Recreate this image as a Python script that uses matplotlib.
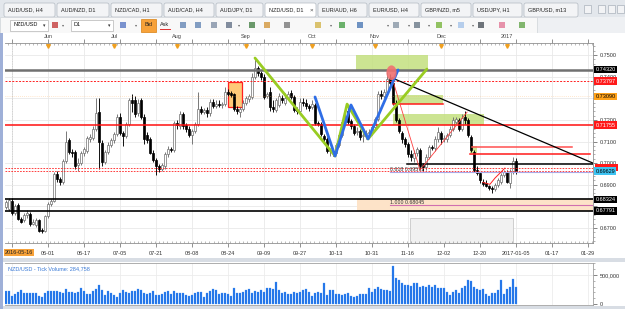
import numpy as np
import matplotlib
matplotlib.use("Agg")
import matplotlib.pyplot as plt
from matplotlib.patches import Rectangle, Ellipse, FancyBboxPatch
from matplotlib.ticker import MultipleLocator, FixedLocator

plt.rcParams['font.family'] = ['Liberation Sans', 'DejaVu Sans']

W, H = 625, 309

# NZD/USD daily bars, bar index 0 = 2016-05-16, last bar = 2017-01-05
first_bar = -2
opens = [0.6798, 0.6790, 0.6825, 0.6770, 0.6805, 0.6742, 0.6735, 0.6760, 0.6765, 0.6720,
         0.6715, 0.6735, 0.6690, 0.6688, 0.6755, 0.6810, 0.6825, 0.6950, 0.6925, 0.6915,
         0.7010, 0.7105, 0.7050, 0.7050, 0.6990, 0.7000, 0.7045, 0.7055, 0.7110, 0.7115,
         0.7160, 0.7235, 0.7095, 0.7005, 0.7050, 0.7085, 0.7105, 0.7135, 0.7215, 0.7140,
         0.7125, 0.7180, 0.7290, 0.7290, 0.7230, 0.7290, 0.7215, 0.7130, 0.7110, 0.7045,
         0.7015, 0.6985, 0.6975, 0.6985, 0.7040, 0.7065, 0.7060, 0.7185, 0.7170, 0.7225,
         0.7175, 0.7160, 0.7130, 0.7150, 0.7180, 0.7250, 0.7235, 0.7245, 0.7230, 0.7285,
         0.7265, 0.7275, 0.7268, 0.7275, 0.7330, 0.7325, 0.7320, 0.7250, 0.7235, 0.7250,
         0.7280, 0.7295, 0.7305, 0.7400, 0.7440, 0.7415, 0.7400, 0.7310, 0.7330, 0.7260,
         0.7245, 0.7270, 0.7300, 0.7280, 0.7300, 0.7325, 0.7305, 0.7245, 0.7240, 0.7285,
         0.7280, 0.7262, 0.7260, 0.7270, 0.7185, 0.7180, 0.7125, 0.7110, 0.7055, 0.7055,
         0.7045, 0.7085, 0.7130, 0.7190, 0.7240, 0.7195, 0.7170, 0.7145, 0.7150, 0.7125,
         0.7135, 0.7140, 0.7140, 0.7165, 0.7205, 0.7320, 0.7310, 0.7330, 0.7395, 0.7370,
         0.7280, 0.7200, 0.7140, 0.7110, 0.7090, 0.7040, 0.7025, 0.7045, 0.7060, 0.6990,
         0.6980, 0.7030, 0.7075, 0.7070, 0.7110, 0.7140, 0.7110, 0.7110, 0.7130, 0.7160,
         0.7190, 0.7200, 0.7160, 0.7215, 0.7200, 0.7120, 0.7050, 0.6970, 0.6955, 0.6915,
         0.6910, 0.6895, 0.6885, 0.6880, 0.6900, 0.6915, 0.6945, 0.6960, 0.6910, 0.6960,
         0.7010]
highs = [0.6830, 0.6840, 0.6838, 0.6812, 0.6815, 0.6750, 0.6770, 0.6785, 0.6772, 0.6740,
         0.6745, 0.6742, 0.6698, 0.6762, 0.6820, 0.6835, 0.6960, 0.6965, 0.6935, 0.7020,
         0.7150, 0.7115, 0.7065, 0.7060, 0.7025, 0.7055, 0.7075, 0.7125, 0.7135, 0.7170,
         0.7300, 0.7300, 0.7105, 0.7060, 0.7100, 0.7115, 0.7145, 0.7225, 0.7230, 0.7150,
         0.7190, 0.7300, 0.7320, 0.7310, 0.7295, 0.7300, 0.7225, 0.7145, 0.7120, 0.7060,
         0.7025, 0.6995, 0.7000, 0.7050, 0.7080, 0.7075, 0.7195, 0.7200, 0.7240, 0.7235,
         0.7185, 0.7170, 0.7160, 0.7190, 0.7330, 0.7265, 0.7255, 0.7260, 0.7295, 0.7295,
         0.7290, 0.7290, 0.7285, 0.7350, 0.7345, 0.7335, 0.7325, 0.7265, 0.7260, 0.7290,
         0.7310, 0.7320, 0.7415, 0.7485, 0.7450, 0.7425, 0.7410, 0.7330, 0.7352, 0.7290,
         0.7300, 0.7325, 0.7315, 0.7325, 0.7335, 0.7340, 0.7315, 0.7260, 0.7300, 0.7300,
         0.7295, 0.7275, 0.7290, 0.7280, 0.7195, 0.7190, 0.7135, 0.7120, 0.7070, 0.7065,
         0.7095, 0.7140, 0.7200, 0.7245, 0.7265, 0.7205, 0.7180, 0.7165, 0.7160, 0.7150,
         0.7155, 0.7160, 0.7175, 0.7215, 0.7335, 0.7340, 0.7345, 0.7420, 0.7410, 0.7380,
         0.7290, 0.7210, 0.7150, 0.7120, 0.7100, 0.7060, 0.7060, 0.7075, 0.7070, 0.7000,
         0.7040, 0.7085, 0.7085, 0.7125, 0.7165, 0.7150, 0.7130, 0.7140, 0.7170, 0.7215,
         0.7215, 0.7210, 0.7225, 0.7240, 0.7210, 0.7130, 0.7060, 0.6985, 0.6960, 0.6925,
         0.6920, 0.6900, 0.6895, 0.6910, 0.6930, 0.6955, 0.6970, 0.6970, 0.6975, 0.7030,
         0.7025]
lows = [0.6790, 0.6778, 0.6760, 0.6762, 0.6735, 0.6722, 0.6728, 0.6748, 0.6710, 0.6712,
        0.6705, 0.6682, 0.6675, 0.6680, 0.6748, 0.6800, 0.6820, 0.6915, 0.6900, 0.6905,
        0.7000, 0.7040, 0.7030, 0.6975, 0.6965, 0.6990, 0.7035, 0.7045, 0.7100, 0.7105,
        0.7150, 0.6975, 0.6985, 0.6995, 0.7040, 0.7075, 0.7095, 0.7125, 0.7130, 0.7080,
        0.7115, 0.7170, 0.7235, 0.7215, 0.7220, 0.7205, 0.7090, 0.7095, 0.7040, 0.7005,
        0.6945, 0.6960, 0.6965, 0.6975, 0.7030, 0.7050, 0.7050, 0.7160, 0.7160, 0.7160,
        0.7145, 0.7120, 0.7090, 0.7140, 0.7170, 0.7225, 0.7225, 0.7215, 0.7220, 0.7255,
        0.7255, 0.7258, 0.7255, 0.7265, 0.7310, 0.7305, 0.7240, 0.7225, 0.7215, 0.7240,
        0.7270, 0.7285, 0.7295, 0.7390, 0.7405, 0.7385, 0.7295, 0.7300, 0.7240, 0.7235,
        0.7235, 0.7260, 0.7280, 0.7270, 0.7290, 0.7295, 0.7235, 0.7225, 0.7230, 0.7265,
        0.7250, 0.7240, 0.7250, 0.7175, 0.7170, 0.7125, 0.7090, 0.7045, 0.7035, 0.7035,
        0.7040, 0.7075, 0.7120, 0.7180, 0.7180, 0.7160, 0.7130, 0.7130, 0.7105, 0.7100,
        0.7110, 0.7115, 0.7130, 0.7155, 0.7195, 0.7295, 0.7300, 0.7320, 0.7360, 0.7270,
        0.7190, 0.7140, 0.7095, 0.7075, 0.7030, 0.7010, 0.7005, 0.7035, 0.6970, 0.6965,
        0.6970, 0.7020, 0.7060, 0.7055, 0.7100, 0.7090, 0.7100, 0.7100, 0.7120, 0.7150,
        0.7180, 0.7150, 0.7150, 0.7180, 0.7120, 0.7050, 0.6960, 0.6945, 0.6910, 0.6895,
        0.6890, 0.6875, 0.6862, 0.6870, 0.6890, 0.6905, 0.6935, 0.6910, 0.6885, 0.6950,
        0.6950]
closes = [0.6821, 0.6828, 0.6770, 0.6800, 0.6740, 0.6730, 0.6760, 0.6770, 0.6718, 0.6730,
          0.6735, 0.6688, 0.6685, 0.6755, 0.6810, 0.6825, 0.6950, 0.6925, 0.6915, 0.7010,
          0.7100, 0.7050, 0.7045, 0.6985, 0.7000, 0.7045, 0.7065, 0.7115, 0.7120, 0.7160,
          0.7230, 0.7100, 0.7005, 0.7050, 0.7085, 0.7105, 0.7135, 0.7215, 0.7140, 0.7125,
          0.7180, 0.7290, 0.7280, 0.7225, 0.7280, 0.7215, 0.7110, 0.7105, 0.7045, 0.7015,
          0.6985, 0.6975, 0.6990, 0.7040, 0.7065, 0.7060, 0.7185, 0.7175, 0.7225, 0.7170,
          0.7160, 0.7130, 0.7150, 0.7180, 0.7250, 0.7235, 0.7245, 0.7230, 0.7285, 0.7265,
          0.7275, 0.7268, 0.7275, 0.7330, 0.7320, 0.7315, 0.7250, 0.7240, 0.7250, 0.7280,
          0.7300, 0.7310, 0.7400, 0.7440, 0.7415, 0.7400, 0.7305, 0.7318, 0.7260, 0.7250,
          0.7290, 0.7310, 0.7290, 0.7300, 0.7320, 0.7305, 0.7245, 0.7240, 0.7285, 0.7280,
          0.7265, 0.7255, 0.7275, 0.7185, 0.7180, 0.7135, 0.7110, 0.7055, 0.7060, 0.7045,
          0.7085, 0.7130, 0.7190, 0.7205, 0.7190, 0.7170, 0.7140, 0.7150, 0.7120, 0.7130,
          0.7140, 0.7145, 0.7165, 0.7205, 0.7320, 0.7310, 0.7330, 0.7390, 0.7370, 0.7280,
          0.7200, 0.7150, 0.7110, 0.7090, 0.7040, 0.7030, 0.7045, 0.7065, 0.6985, 0.6980,
          0.7030, 0.7075, 0.7070, 0.7110, 0.7145, 0.7110, 0.7115, 0.7130, 0.7160, 0.7200,
          0.7205, 0.7160, 0.7210, 0.7200, 0.7130, 0.7060, 0.6970, 0.6955, 0.6920, 0.6905,
          0.6895, 0.6885, 0.6880, 0.6900, 0.6920, 0.6945, 0.6960, 0.6915, 0.6965, 0.7010,
          0.6963]
# tick volume, thousands
tick_volume = [224, 224, 138, 172, 212, 240, 184, 184, 184, 184,
               184, 138, 115, 195, 224, 218, 218, 224, 200, 184,
               252, 212, 200, 184, 206, 275, 224, 178, 172, 218,
               252, 327, 240, 155, 224, 184, 149, 115, 195, 240,
               200, 195, 218, 230, 252, 240, 184, 172, 184, 224,
               160, 155, 172, 212, 218, 172, 218, 195, 184, 184,
               155, 138, 160, 195, 200, 200, 126, 184, 230, 252,
               246, 172, 184, 195, 172, 138, 270, 184, 184, 206,
               240, 263, 184, 230, 212, 240, 200, 270, 280, 263,
               378, 240, 184, 206, 172, 172, 212, 195, 212, 240,
               252, 212, 138, 184, 212, 195, 355, 155, 240, 246,
               166, 172, 155, 172, 184, 138, 126, 138, 166, 172,
               172, 270, 206, 258, 298, 252, 240, 240, 230, 654,
               440, 413, 355, 332, 327, 310, 367, 367, 298, 310,
               298, 321, 298, 327, 281, 281, 270, 212, 155, 212,
               240, 195, 281, 310, 413, 401, 298, 252, 240, 252,
               172, 138, 184, 195, 240, 413, 172, 252, 298, 424,
               285]

date_ticks = list(range(0, 193, 12))
date_labels = ['2016-05-16', '06-01', '06-17', '07-05', '07-21', '08-08', '08-24', '09-09',
               '09-27', '10-13', '10-31', '11-16', '12-02', '12-20', '2017-01-05', '01-17', '01-29']
month_idx = [12, 34, 55, 78, 100, 121, 143, 165]
month_names = ['Jun', 'Jul', 'Aug', 'Sep', 'Oct', 'Nov', 'Dec', '2017']
price_ticks = [0.67, 0.68, 0.69, 0.70, 0.71, 0.72, 0.73, 0.74, 0.75]
price_tick_labels = ['0.6700', '', '0.6900', '0.7000', '0.7100', '0.7200', '', '0.7400', '0.7500']

# price tags on the right scale: price, background, text colour
tag_prices = [0.74320, 0.73797, 0.73090, 0.71755, 0.69629, 0.68324, 0.67791]
tag_colors = ['black', '#ff1a1a', '#ffa21a', '#ff1a1a', '#3ec3f2', 'black', 'black']
tag_text_colors = ['white', 'white', 'black', 'white', 'black', 'white', 'white']
hidden_tag_price = 0.69771

# drawn objects (bar index, price)
green_wave_x = [81, 107.7, 111.7, 118.7, 138.3]
green_wave_y = [0.7486, 0.7033, 0.7273, 0.7112, 0.7435]
blue_wave_x = [101, 107.7, 113, 118.7, 128.7]
blue_wave_y = [0.7306, 0.7033, 0.7269, 0.7112, 0.7431]
trend_x = [126.7, 193.7]
trend_y = [0.7394, 0.7000]
red_path_x = [126.7, 136, 151.7]
red_path_y = [0.7394, 0.6968, 0.7236]
red_path2_x = [157, 159.3, 161, 164.3]
red_path2_y = [0.6911, 0.6902, 0.6931, 0.6977]
# (x0, x1, y0, y1)
green_boxes = [(114.7, 138.7, 0.7432, 0.7500), (127, 143.7, 0.7273, 0.7315),
               (127, 157.3, 0.7176, 0.7227), (152.7, 155, 0.7047, 0.7079)]
# short horizontal lines: price, x0, x1, colour
short_lines = [(0.7273, 127, 143.7, '#ff1a1a'), (0.7075, 153.3, 186.7, '#ff5050'),
               (0.7042, 152.7, 192.7, '#ff1a1a'), (0.6996, 131.7, 193.7, 'black')]

fig = plt.figure(figsize=(W / 100, H / 100), dpi=100)


def rect(x0, y0, x1, y1):
    return [x0 / W, 1 - y1 / H, (x1 - x0) / W, (y1 - y0) / H]


# ---- window chrome ----
bg = fig.add_axes([0, 0, 1, 1])
bg.set_xlim(0, W)
bg.set_ylim(H, 0)
bg.axis('off')
bg.add_patch(Rectangle((0, 0), W, H, fc='#eef0f3', ec='none'))
bg.add_patch(Rectangle((0, 0), W, 17, fc='#e3e7ec', ec='none'))
tab_edges = [3, 56, 110, 163, 215, 264, 317, 368, 420, 472, 523, 579]
tab_names = ['AUD/USD, H4', 'AUD/NZD, D1', 'NZD/CAD, H1', 'AUD/CAD, H4', 'AUD/JPY, D1',
             'NZD/USD, D1', 'EUR/AUD, H6', 'EUR/USD, H4', 'GBP/NZD, m5', 'USD/JPY, H1',
             'GBP/USD, m13']
for k, name in enumerate(tab_names):
    x0, x1 = tab_edges[k], tab_edges[k + 1]
    active = name == 'NZD/USD, D1'
    bg.add_patch(FancyBboxPatch((x0 + 1, 3), x1 - x0 - 2, 14,
                                boxstyle='round,pad=0,rounding_size=2',
                                fc='white' if active else '#f3f4f6', ec='#b3bac2', lw=0.5))
    bg.text(x0 + 5, 10, name, fontsize=4, color='#222222', va='center')
    if active:
        bg.text(x1 - 7, 10, '×', fontsize=4.5, color='#444444', va='center')
for bx in [584, 598, 608, 617]:
    bg.add_patch(Rectangle((bx, 5), 7, 8, fc='#f2f3f5', ec='#aab2bb', lw=0.5))

# toolbar
bg.add_patch(Rectangle((0, 17), 537, 16, fc='#f8f8f8', ec='#cfd3d8', lw=0.5))
bg.add_patch(Rectangle((10, 19.5), 38, 11, fc='white', ec='#b5b5b5', lw=0.5))
bg.text(13, 25, 'NZD/USD', fontsize=4, va='center', color='#111111')
bg.text(43, 25.5, '▾', fontsize=3.5, va='center', color='#333333')
bg.add_patch(Rectangle((71, 19.5), 42, 11, fc='white', ec='#b5b5b5', lw=0.5))
bg.text(74, 25, 'D1', fontsize=4, va='center', color='#111111')
bg.text(108, 25.5, '▾', fontsize=3.5, va='center', color='#333333')
bg.add_patch(Rectangle((141, 18.5), 15, 13, fc='#f7a23a', ec='#d98010', lw=0.5))
bg.text(148.5, 25, 'Bid', fontsize=4, ha='center', va='center', color='#222222')
bg.text(165, 25, 'Ask', fontsize=4, ha='center', va='center', color='#222222')
bg.plot([160, 170], [28.5, 28.5], color='#e03030', lw=0.7)
icon_x = [55, 123, 183, 198, 214, 229, 252, 267, 287, 318, 342, 360, 396, 417, 439, 461, 481, 502, 522]
icon_c = ['#c03030', '#5070c0', '#5a7fb0', '#5a7fb0', '#7a8aa0', '#5a6a80', '#3a7a3a',
          '#d09030', '#707070', '#d0b040', '#3c9a3c', '#4070b0', '#8090a0', '#607080',
          '#70b030', '#a0c0e8', '#404850', '#e07090', '#5aa040']
for ix, ic in zip(icon_x, icon_c):
    bg.add_patch(Rectangle((ix - 3, 22), 6, 6, fc=ic, ec='none', alpha=0.75))
for ix in [62, 135, 238, 330, 387, 408, 428, 450, 472]:
    bg.text(ix, 25.5, '▾', fontsize=3, va='center', color='#666666')

# chart panels
bg.add_patch(Rectangle((3, 33), W - 3, 225, fc='white', ec='none'))
bg.add_patch(Rectangle((3, 258), W - 3, 4, fc='#d8dde4', ec='none'))
bg.add_patch(Rectangle((3, 262), W - 3, 44, fc='white', ec='none'))
bg.add_patch(Rectangle((0, 306), W, 3, fc='#d8dde4', ec='none'))
bg.add_patch(Rectangle((0, 33), 3, H - 33, fc='#9fb0d8', ec='none'))

# ---- price chart ----
ax = fig.add_axes(rect(5, 43, 593, 243))
idx = np.arange(first_bar, first_bar + len(closes))
o = np.array(opens)
hi = np.array(highs)
lo = np.array(lows)
c = np.array(closes)
up = c >= o

ax.set_xlim(-2.33, 193.67)
ax.set_ylim(0.66308, 0.75555)
ax.set_facecolor('white')

for x in date_ticks:
    ax.axvline(x, color='#e9e9e9', lw=0.6, zorder=0)
for p in price_ticks:
    ax.axhline(p, color='#e9e9e9', lw=0.6, zorder=0)
ax.axvline(0, color='#c8c8c8', lw=0.6, ls=(0, (1, 1)), zorder=0.5)

# background objects
for x0, x1, y0, y1 in green_boxes:
    ax.add_patch(Rectangle((x0, y0), x1 - x0, y1 - y0, fc='#c3e07f', ec='none', alpha=0.85, zorder=1))
ax.add_patch(Rectangle((72, 0.7260), 4.7, 0.0115, fc='#ffc978', ec='#ff2020', lw=0.9, zorder=1))
ax.add_patch(Rectangle((115, 0.67791), 78.7, 0.00533, fc='#fde3c8', ec='none', zorder=1))
ax.add_patch(Rectangle((132.7, 0.66308), 34.3, 0.01165, fc='#f1f1f1', ec='#c8c8c8', lw=0.6, zorder=1))

# candles
ax.vlines(idx, lo, hi, colors=np.where(up, '#6f6f6f', 'black'), lw=0.65, zorder=2)
ax.bar(idx, np.maximum(np.abs(c - o), 0.00012), bottom=np.minimum(o, c), width=0.72,
       color=np.where(up, 'white', 'black'), edgecolor=np.where(up, '#6f6f6f', 'black'),
       linewidth=0.5, zorder=2.5)

# full-width levels
ax.axhline(0.74320, color='#707070', lw=1.8, zorder=3)
ax.axhline(0.73797, color='#ff2020', lw=0.7, ls=(0, (2, 1.5)), zorder=3)
ax.axhline(0.73090, color='#ffb060', lw=0.5, ls=(0, (1, 2)), alpha=0.6, zorder=3)
ax.axhline(0.71755, color='#ff1010', lw=1.1, zorder=3)
ax.axhline(0.69771, color='#ff2020', lw=0.6, ls=(0, (2, 1.5)), zorder=3)
ax.axhline(0.69629, color='#ff2020', lw=0.6, ls=(0, (2, 1.5)), zorder=3)
ax.axhline(0.68324, color='black', lw=1.2, zorder=3)
ax.axhline(0.67791, color='black', lw=1.2, zorder=3)
ax.plot([126, 193.7], [0.69571, 0.69571], color='#a8a8e8', lw=0.8, zorder=3)
ax.plot([126, 193.7], [0.68045, 0.68045], color='#d070b0', lw=0.8, zorder=3)
ax.text(126, 0.69571, '0.618 0.69571', fontsize=3.8, color='#333333', va='bottom', zorder=4)
ax.text(126, 0.68045, '1.000 0.68045', fontsize=3.8, color='#333333', va='bottom', zorder=4)
for p, x0, x1, col in short_lines:
    ax.plot([x0, x1], [p, p], color=col, lw=1.1, zorder=3)

ax.plot(trend_x, trend_y, color='black', lw=0.9, zorder=3)
ax.plot(red_path_x, red_path_y, color='#ff4040', lw=0.6, zorder=3)
ax.plot(red_path2_x, red_path2_y, color='#ff2020', lw=0.7, zorder=3)
ax.plot(green_wave_x, green_wave_y, color='#99cc22', lw=2, solid_capstyle='round', zorder=3.5)
ax.plot(blue_wave_x, blue_wave_y, color='#2f6ee6', lw=2, solid_capstyle='round', zorder=3.6)
ax.add_patch(Ellipse((126.5, 0.7418), 3.4, 0.0068, fc='#f07070', ec='none', alpha=0.9, zorder=3.7))

# axes styling
ax.spines['left'].set_visible(False)
for s in ['right', 'top', 'bottom']:
    ax.spines[s].set_color('#909090')
    ax.spines[s].set_linewidth(0.6)
ax.yaxis.tick_right()
ax.set_yticks(price_ticks)
ax.set_yticklabels(price_tick_labels)
ax.yaxis.set_minor_locator(MultipleLocator(0.002))
ax.tick_params(axis='y', which='major', direction='out', length=3, width=0.5,
               labelsize=4, pad=2, colors='#555555', labelcolor='#333333')
ax.tick_params(axis='y', which='minor', direction='out', length=1.5, width=0.4, colors='#777777')
ax.set_xticks(date_ticks)
ax.set_xticklabels([''] + date_labels[1:])
ax.xaxis.set_minor_locator(MultipleLocator(1.4))
ax.tick_params(axis='x', which='major', direction='out', length=3, width=0.5,
               labelsize=4, pad=3, colors='#666666', labelcolor='#333333', top=True)
ax.tick_params(axis='x', which='minor', direction='in', length=1.5, width=0.4,
               colors='#888888', top=True, bottom=True)
ax.text(0.0, -0.035, date_labels[0], transform=ax.transAxes, fontsize=4, va='top', ha='left',
        color='#222222', bbox=dict(boxstyle='square,pad=0.2', fc='#f7a23a', ec='none'))

ytr = ax.get_yaxis_transform()
# red tag mostly hidden behind the Bid tag
ax.add_patch(Rectangle((1.003, hidden_tag_price - 0.0012), 0.039, 0.0030, transform=ytr,
                       fc='#ff1a1a', ec='none', clip_on=False, zorder=5))
for p, col, tcol in zip(tag_prices, tag_colors, tag_text_colors):
    ax.text(1.004, p, '%.5f' % p, transform=ytr, fontsize=4, color=tcol, va='center', ha='left',
            clip_on=False, zorder=6,
            bbox=dict(boxstyle='square,pad=0.22', fc=col, ec='none'))

xtr = ax.get_xaxis_transform()
for m, name in zip(month_idx, month_names):
    ax.text(m, 1.02, name, transform=xtr, fontsize=4, color='#444444', ha='center', va='bottom',
            clip_on=False)
ax.plot(month_idx, [0.985] * len(month_idx), transform=xtr, ls='none', marker='v',
        ms=2.6, color='#f0a020', clip_on=False, zorder=6)

# ---- tick volume ----
axv = fig.add_axes(rect(5, 263, 593, 305))
vol = np.array(tick_volume) * 1000
axv.bar(idx, vol, width=0.7, color='#1f73e8', edgecolor='#4a95f5', linewidth=0.2)
axv.set_xlim(-2.33, 193.67)
axv.set_ylim(-17000, 707000)
for x in date_ticks:
    axv.axvline(x, color='#ececec', lw=0.6, zorder=0)
axv.axhline(500000, color='#ececec', lw=0.6, zorder=0)
axv.spines['left'].set_visible(False)
for s in ['right', 'top', 'bottom']:
    axv.spines[s].set_color('#a0a0a0')
    axv.spines[s].set_linewidth(0.6)
axv.yaxis.tick_right()
axv.yaxis.set_major_locator(FixedLocator([0, 500000]))
axv.set_yticklabels(['0', '500,000'])
axv.yaxis.set_minor_locator(MultipleLocator(100000))
axv.tick_params(axis='y', which='major', direction='out', length=3, width=0.5,
                labelsize=4, pad=2, colors='#555555', labelcolor='#333333')
axv.tick_params(axis='y', which='minor', direction='out', length=1.5, width=0.4, colors='#777777')
axv.set_xticks([])
axv.text(0.005, 0.93, 'NZD/USD - Tick Volume: 284,758', transform=axv.transAxes,
         fontsize=4, color='#3a7ad6', va='top', ha='left')

fig.savefig('out.png', dpi=100)
